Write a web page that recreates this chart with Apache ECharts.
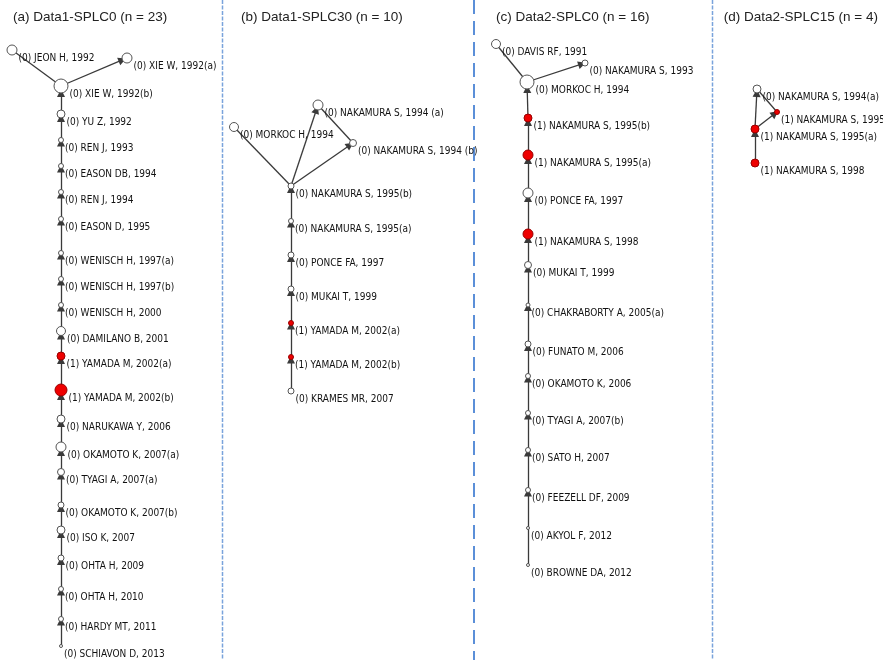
<!DOCTYPE html>
<html><head><meta charset="utf-8">
<script src="https://cdn.jsdelivr.net/npm/echarts@6/dist/echarts.min.js"></script>
<style>html,body{margin:0;padding:0;background:#fff}#c{width:883px;height:660px}</style>
</head><body><div id="c"></div>
<script>
// ---------- data ----------
const panelTitles = ['(a) Data1-SPLC0 (n = 23)', '(b) Data1-SPLC30 (n = 10)', '(c) Data2-SPLC0 (n = 16)', '(d) Data2-SPLC15 (n = 4)'];

// Panel (a)
const aNames = ['JEON H, 1992','XIE W, 1992(a)','XIE W, 1992(b)','YU Z, 1992','REN J, 1993','EASON DB, 1994','REN J, 1994','EASON D, 1995','WENISCH H, 1997(a)','WENISCH H, 1997(b)','WENISCH H, 2000','DAMILANO B, 2001','YAMADA M, 2002(a)','YAMADA M, 2002(b)','NARUKAWA Y, 2006','OKAMOTO K, 2007(a)','TYAGI A, 2007(a)','OKAMOTO K, 2007(b)','ISO K, 2007','OHTA H, 2009','OHTA H, 2010','HARDY MT, 2011','SCHIAVON D, 2013'];
const aFlag  = [0,0,0,0,0,0,0,0,0,0,0,0,1,1,0,0,0,0,0,0,0,0,0];
const aX     = [12,127,61,61,61,61,61,61,61,61,61,61,61,61,61,61,61,61,61,61,61,61,61];
const aY     = [50,58,86,114,140,166,192,219,253,279,305,331,356,390,419,447,472,505,530,558,589,619,646];
const aW     = [5,5,7,4,2.5,2.5,2.5,2.5,2.5,2.5,2.5,4.5,4,6,4,5,3.5,3,4,3,2.5,2.5,1.5];
const aLinks = [[0,2,0],[2,1,1],[3,2,1],[4,3,1],[5,4,1],[6,5,1],[7,6,1],[8,7,1],[9,8,1],[10,9,1],[11,10,1],[12,11,1],[13,12,1],[14,13,1],[15,14,1],[16,15,1],[17,16,1],[18,17,1],[19,18,1],[20,19,1],[21,20,1],[22,21,1]];

// Panel (b)
const bNames = ['MORKOC H, 1994','NAKAMURA S, 1994 (a)','NAKAMURA S, 1994 (b)','NAKAMURA S, 1995(b)','NAKAMURA S, 1995(a)','PONCE FA, 1997','MUKAI T, 1999','YAMADA M, 2002(a)','YAMADA M, 2002(b)','KRAMES MR, 2007'];
const bFlag  = [0,0,0,0,0,0,0,1,1,0];
const bX     = [234,318,353,291,291,291,291,291,291,291];
const bY     = [127,105,143,186,221,255,289,323,357,391];
const bW     = [4.5,5,3.5,3,2.5,3,3,2.5,2.5,3];
const bLinks = [[0,3,0],[3,1,1],[3,2,1],[1,2,0],[4,3,1],[5,4,1],[6,5,1],[7,6,1],[8,7,1],[9,8,1]];

// Panel (c)
const cNames = ['DAVIS RF, 1991','NAKAMURA S, 1993','MORKOC H, 1994','NAKAMURA S, 1995(b)','NAKAMURA S, 1995(a)','PONCE FA, 1997','NAKAMURA S, 1998','MUKAI T, 1999','CHAKRABORTY A, 2005(a)','FUNATO M, 2006','OKAMOTO K, 2006','TYAGI A, 2007(b)','SATO H, 2007','FEEZELL DF, 2009','AKYOL F, 2012','BROWNE DA, 2012'];
const cFlag  = [0,0,0,1,1,0,1,0,0,0,0,0,0,0,0,0];
const cX     = [496,585,527,528,528,528,528,528,528,528,528,528,528,528,528,528];
const cY     = [44,63,82,118,155,193,234,265,305,344,376,413,450,490,528,565];
const cW     = [4.5,3,7,4,5,5,5,3.5,2,3,2.5,2.5,2.5,2.5,1.5,1.5];
const cLinks = [[0,2,0],[2,1,1],[3,2,1],[4,3,1],[5,4,1],[6,5,1],[7,6,1],[8,7,1],[9,8,1],[10,9,1],[11,10,1],[12,11,1],[13,12,1],[14,13,1],[15,14,0]];

// Panel (d)
const dNames = ['NAKAMURA S, 1994(a)','NAKAMURA S, 1995(b)','NAKAMURA S, 1995(a)','NAKAMURA S, 1998'];
const dFlag  = [0,1,1,1];
const dX     = [757,777,755,755];
const dY     = [89,112,129,163];
const dW     = [4,2.5,4,4];
const dLinks = [[2,0,1],[2,1,1],[0,1,0],[3,2,1]];

// ---------- build ----------
const LABEL_FONT = "'DejaVu Sans Condensed','Liberation Sans Narrow',sans-serif";
function makeSeries(names, flag, xs, ys, ws, links) {
  const data = names.map((n, i) => ({
    id: String(i),
    name: n,
    value: [xs[i], ys[i]],
    symbolSize: ws[i] * 2,
    itemStyle: flag[i] ? { color: '#ee0000', borderColor: '#990000', borderWidth: 1 }
                       : { color: '#ffffff', borderColor: '#555555', borderWidth: 1 },
    label: { formatter: '(' + flag[i] + ') ' + n }
  }));
  const ls = links.map(l => ({
    source: String(l[0]), target: String(l[1]),
    symbol: l[2] ? ['none', 'triangle'] : ['none', 'none']
  }));
  return {
    type: 'graph',
    coordinateSystem: 'cartesian2d',
    layout: 'none',
    symbol: 'circle',
    data: data,
    links: ls,
    edgeSymbolSize: [0, 8],
    silent: true,
    animation: false,
    z: 3,
    lineStyle: { color: '#3a3a3a', width: 1.3, opacity: 1, curveness: 0 },
    label: {
      show: true, position: 'right', distance: 1, offset: [0, 8],
      fontFamily: LABEL_FONT, fontSize: 10, color: '#111'
    },
    emphasis: { disabled: true }
  };
}

const titlePos = [{ left: 8 }, { left: 236 }, { left: 491 }, { right: 0 }];
const chart = echarts.init(document.getElementById('c'), null, { renderer: 'canvas' });
chart.setOption({
  backgroundColor: '#ffffff',
  animation: false,
  title: panelTitles.map((t, i) => Object.assign({
    text: t, top: 5,
    textStyle: { fontFamily: 'Liberation Sans, Arial, sans-serif', fontSize: 13.5, fontWeight: 'normal', color: '#222' }
  }, titlePos[i])),
  grid: { left: 0, right: 0, top: 0, bottom: 0 },
  xAxis: { type: 'value', min: 0, max: 883, show: false },
  yAxis: { type: 'value', min: 0, max: 660, inverse: true, show: false },
  graphic: [
    { type: 'line', shape: { x1: 222.5, y1: 0, x2: 222.5, y2: 660 }, style: { stroke: '#7aa3dc', lineWidth: 1.5, lineDash: [4, 1.5] } },
    { type: 'line', shape: { x1: 474, y1: 0, x2: 474, y2: 660 }, style: { stroke: '#5b8fd8', lineWidth: 2, lineDash: [14, 7] } },
    { type: 'line', shape: { x1: 712.5, y1: 0, x2: 712.5, y2: 660 }, style: { stroke: '#7aa3dc', lineWidth: 1.5, lineDash: [4, 1.5] } }
  ],
  series: [
    makeSeries(aNames, aFlag, aX, aY, aW, aLinks),
    makeSeries(bNames, bFlag, bX, bY, bW, bLinks),
    makeSeries(cNames, cFlag, cX, cY, cW, cLinks),
    makeSeries(dNames, dFlag, dX, dY, dW, dLinks)
  ]
});
</script>
</body></html>
